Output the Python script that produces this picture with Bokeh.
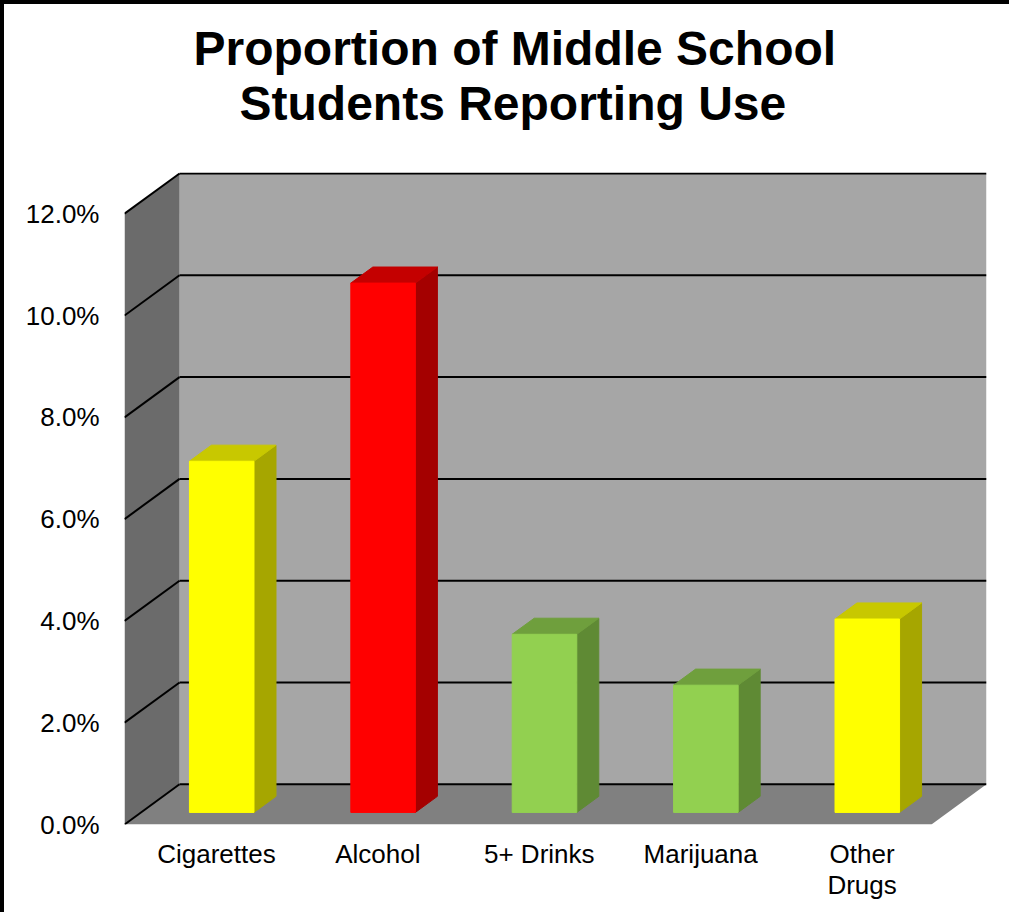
from bokeh.plotting import figure
from bokeh.models import ColumnDataSource, FixedTicker, PrintfTickFormatter, Title
from bokeh.embed import file_html
from bokeh.resources import INLINE

# ---- data ----
categories = ["Cigarettes", "Alcohol", "5+ Drinks", "Marijuana", "Other\nDrugs"]
values = [6.9, 10.4, 3.5, 2.5, 3.8]          # percent
y_ticks = [0, 2, 4, 6, 8, 10, 12]
title_lines = ["Proportion of Middle School", "Students Reporting Use"]

# ---- style ----
front_colors = ["#ffff00", "#ff0000", "#92d050", "#92d050", "#ffff00"]
top_colors = ["#c8c800", "#c40000", "#6f9f3d", "#6f9f3d", "#c8c800"]
side_colors = ["#a6a600", "#a40000", "#5f8a34", "#5f8a34", "#a6a600"]
FONT = "Liberation Sans"

n = len(categories)
DX, DY = 0.341, 0.79          # 3-D depth offset in data units
F0, F1 = 0.30, 0.70           # bar front/back depth fractions
HALF = 0.20                   # half bar width
YMAX = max(y_ticks)

p = figure(width=1009, height=912, x_range=(0, n + DX), y_range=(0, YMAX + DY + 0.02),
           min_border_left=120, min_border_right=27, min_border_top=168, min_border_bottom=92,
           output_backend="svg", toolbar_location=None)
p.styles = {"border-left": "4px solid black", "border-top": "4px solid black"}
p.background_fill_color = "white"
p.border_fill_color = "white"
p.outline_line_color = None
p.xgrid.visible = False
p.ygrid.visible = False

# walls and floor
p.patch([DX, n + DX, n + DX, DX], [DY, DY, YMAX + DY, YMAX + DY], fill_color="#a6a6a6", line_color=None)
p.patch([0, DX, DX, 0], [0, DY, YMAX + DY, YMAX], fill_color="#6b6b6b", line_color=None)
p.patch([0, n, n + DX, DX], [0, 0, DY, DY], fill_color="#808080", line_color=None)

# gridlines: diagonal on left wall + horizontal on back wall
gx0, gy0, gx1, gy1 = [], [], [], []
for v in y_ticks:
    gx0 += [0, DX]; gy0 += [v, v + DY]
    gx1 += [DX, n + DX]; gy1 += [v + DY, v + DY]
p.segment(gx0, gy0, gx1, gy1, line_color="black", line_width=2)

# bars
fx, fy, tx, ty, sx, sy = [], [], [], [], [], []
ox0, oy0, ox1, oy1 = F0 * DX, F0 * DY, F1 * DX, F1 * DY
for i, v in enumerate(values):
    x0 = i + 0.5 - HALF
    x1 = i + 0.5 + HALF
    fx.append([x0 + ox0, x1 + ox0, x1 + ox0, x0 + ox0])
    fy.append([oy0, oy0, v + oy0, v + oy0])
    tx.append([x0 + ox0, x1 + ox0, x1 + ox1, x0 + ox1])
    ty.append([v + oy0, v + oy0, v + oy1, v + oy1])
    sx.append([x1 + ox0, x1 + ox1, x1 + ox1, x1 + ox0])
    sy.append([oy0, oy1, v + oy1, v + oy0])

p.patches(xs="xs", ys="ys", fill_color="c", line_color="c", line_width=1,
          source=ColumnDataSource(dict(xs=sx, ys=sy, c=side_colors)))
p.patches(xs="xs", ys="ys", fill_color="c", line_color="c", line_width=1,
          source=ColumnDataSource(dict(xs=tx, ys=ty, c=top_colors)))
p.patches(xs="xs", ys="ys", fill_color="c", line_color="c", line_width=1,
          source=ColumnDataSource(dict(xs=fx, ys=fy, c=front_colors)))

# y axis
ya = p.yaxis[0]
ya.ticker = FixedTicker(ticks=y_ticks)
ya.formatter = PrintfTickFormatter(format="%.1f%%")
ya.axis_line_color = None
ya.major_tick_line_color = None
ya.minor_tick_line_color = None
ya.major_label_standoff = 19
ya.major_label_text_font = FONT
ya.major_label_text_font_size = "26px"
ya.major_label_text_color = "black"

# x axis
xa = p.xaxis[0]
xt = [round(i + 0.57, 3) for i in range(n)]
xa.ticker = FixedTicker(ticks=xt)
xa.major_label_overrides = {t: c for t, c in zip(xt, categories)}
xa.axis_line_color = None
xa.major_tick_line_color = None
xa.minor_tick_line_color = None
xa.major_tick_out = 0
xa.major_label_standoff = 14
xa.major_label_text_font = FONT
xa.major_label_text_font_size = "26px"
xa.major_label_text_color = "black"
xa.major_label_text_line_height = 1.04
xa.major_label_orientation = "horizontal"

# title: spacer (innermost) then two lines, each placed to appear centred
p.add_layout(Title(text=" ", text_font_size="1px", standoff=40), "above")
p.add_layout(Title(text=title_lines[1], align="left", offset=115, standoff=0,
                   text_font=FONT, text_font_size="48px", text_font_style="bold",
                   text_color="black"), "above")
p.add_layout(Title(text=title_lines[0], align="left", offset=69, standoff=0,
                   text_font=FONT, text_font_size="48px", text_font_style="bold",
                   text_color="black"), "above")

open("out.html", "w").write(file_html(p, INLINE))
